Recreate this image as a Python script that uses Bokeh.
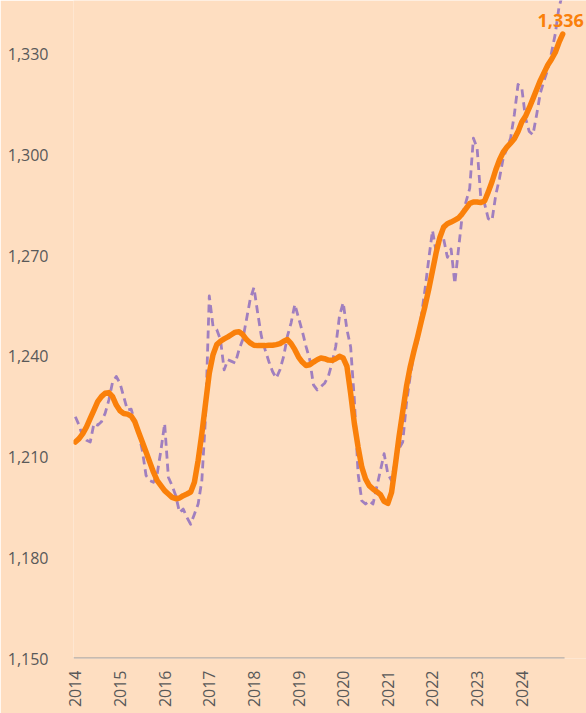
import math
from bokeh.plotting import figure
from bokeh.models import ColumnDataSource, FixedTicker, NumeralTickFormatter, Label
from bokeh.embed import file_html
from bokeh.resources import INLINE

# ---- data (monthly, Jan 2014 .. Dec 2024) ----
years = ["2014", "2015", "2016", "2017", "2018", "2019", "2020", "2021", "2022", "2023", "2024"]
y_ticks = [1150, 1180, 1210, 1240, 1270, 1300, 1330]

trend = [
    1214.5, 1215.5, 1217, 1219, 1221.5, 1224, 1226.5, 1228, 1229, 1229.2, 1228, 1225.5,
    1223.8, 1223, 1222.8, 1222.2, 1220.5, 1217.4, 1214.5, 1211.5, 1208.5, 1205.5, 1203, 1201.5,
    1200, 1199, 1198, 1197.6, 1197.8, 1198.5, 1199, 1199.6, 1202.5, 1209, 1217, 1226,
    1235, 1240.5, 1243.5, 1244.5, 1245.2, 1245.8, 1246.5, 1247.2, 1247.3, 1246.5, 1245, 1244,
    1243.3, 1243.2, 1243.2, 1243.2, 1243.3, 1243.3, 1243.5, 1243.8, 1244.5, 1245, 1243.8, 1242,
    1239.8, 1238.3, 1237.3, 1237.5, 1238.3, 1239, 1239.5, 1239.3, 1238.9, 1238.8, 1239.3, 1240,
    1239.5, 1237, 1229, 1220, 1213, 1207, 1203.5, 1201.5, 1200.5, 1199.7, 1198.8, 1196.8,
    1196.2, 1199.5, 1207.5, 1216, 1223.5, 1231, 1236.8, 1241.5, 1245.8, 1250.5, 1255, 1260,
    1265.5, 1271, 1275.5, 1278.5, 1279.5, 1280, 1280.6, 1281.2, 1282.5, 1284, 1285.5, 1286,
    1286, 1285.8, 1286.3, 1289, 1292, 1295.5, 1298.5, 1300.8, 1302.3, 1303.5, 1304.8, 1307,
    1309.8, 1311.5, 1314, 1316.7, 1319.5, 1322.2, 1324.5, 1326.8, 1328.5, 1330.5, 1333.5, 1336,
]

monthly = [
    1222, 1219.5, 1216, 1215, 1214.5, 1220, 1219.5, 1220.5, 1223, 1227, 1232.3, 1234,
    1232, 1228, 1224, 1224.3, 1220.5, 1217, 1212, 1204.5, 1203, 1202.5, 1205, 1212,
    1220, 1204, 1201.5, 1198.5, 1193.5, 1194.5, 1192, 1190, 1193, 1196, 1203, 1222,
    1258, 1249, 1248, 1245, 1236, 1239, 1238.5, 1238, 1242, 1245, 1251, 1257,
    1260.5, 1253, 1246, 1242, 1238.5, 1235.5, 1233.5, 1236, 1240, 1246, 1250, 1255.5,
    1251.5, 1247.5, 1243, 1239, 1231.5, 1230, 1231, 1232, 1234, 1238, 1243, 1252,
    1256, 1248, 1242.8, 1227, 1205, 1197, 1196, 1197, 1196, 1201, 1206, 1211,
    1205, 1203, 1209, 1212.5, 1214.5, 1226, 1234, 1240.8, 1244.5, 1252, 1260, 1269,
    1277.5, 1271, 1275, 1275, 1269.5, 1272, 1261.7, 1272, 1282, 1286, 1290, 1305,
    1302, 1287, 1285.5, 1281, 1280.5, 1288, 1293, 1299, 1302, 1305, 1312, 1321,
    1320, 1311, 1307, 1306, 1312, 1318.5, 1322.2, 1325.5, 1330.5, 1336, 1344, 1348,
]

months = list(range(len(trend)))

BG = "#FEDEC1"
ORANGE = "#FA800A"
PURPLE = "#A07FBF"
GREY_TXT = "#595959"
FONT = "Open Sans"

# category axis spans -0.5 .. n-0.5; frame extends a bit further right so the
# end label is not clipped (axis line drawn only over the categories)
x_lo = -0.5
x_hi = len(trend) - 0.5
x_frame_hi = x_hi + 5.9

src = ColumnDataSource(dict(m=months, trend=trend, monthly=monthly))

p = figure(
    width=586, height=713,
    x_range=(x_lo, x_frame_hi),
    y_range=(y_ticks[0], 1346),
    output_backend="svg", toolbar_location=None,
    min_border_left=73, min_border_right=0, min_border_top=0, min_border_bottom=55,
    background_fill_color=BG, border_fill_color=BG, outline_line_color=None,
)
p.grid.visible = False

# axis baseline over the category range
p.line([x_lo, x_hi], [y_ticks[0], y_ticks[0]], line_color="#B5AEA9", line_width=2.5)

p.line("m", "monthly", source=src, line_color=PURPLE, line_width=2.8,
       line_dash="8 5", line_join="round")
p.line("m", "trend", source=src, line_color=ORANGE, line_width=5.5,
       line_join="round", line_cap="round")

# y axis
p.yaxis.ticker = FixedTicker(ticks=y_ticks)
p.yaxis.formatter = NumeralTickFormatter(format="0,0")
p.yaxis.axis_line_color = None
p.yaxis.major_tick_line_color = None
p.yaxis.minor_tick_line_color = None
p.yaxis.major_label_standoff = 19
p.yaxis.major_label_text_font = FONT
p.yaxis.major_label_text_font_size = "16px"
p.yaxis.major_label_text_color = GREY_TXT

# x axis
p.xaxis.ticker = FixedTicker(ticks=[12 * k for k in range(len(years))])
p.xaxis.major_label_overrides = {12 * k: y for k, y in enumerate(years)}
p.xaxis.major_label_orientation = math.pi / 2
p.xaxis.axis_line_color = None
p.xaxis.major_tick_line_color = None
p.xaxis.minor_tick_line_color = None
p.xaxis.major_tick_out = 0
p.xaxis.major_tick_in = 0
p.xaxis.major_label_standoff = 12
p.xaxis.major_label_text_font = FONT
p.xaxis.major_label_text_font_size = "16px"
p.xaxis.major_label_text_color = GREY_TXT

# end label
p.add_layout(Label(
    x=months[-1], y=trend[-1], text=f"{trend[-1]:,.0f}",
    x_offset=-2, y_offset=14,
    text_align="center", text_baseline="alphabetic",
    text_font=FONT, text_font_style="bold", text_font_size="18px",
    text_color=ORANGE,
))

open("out.html", "w").write(file_html(p, INLINE))
